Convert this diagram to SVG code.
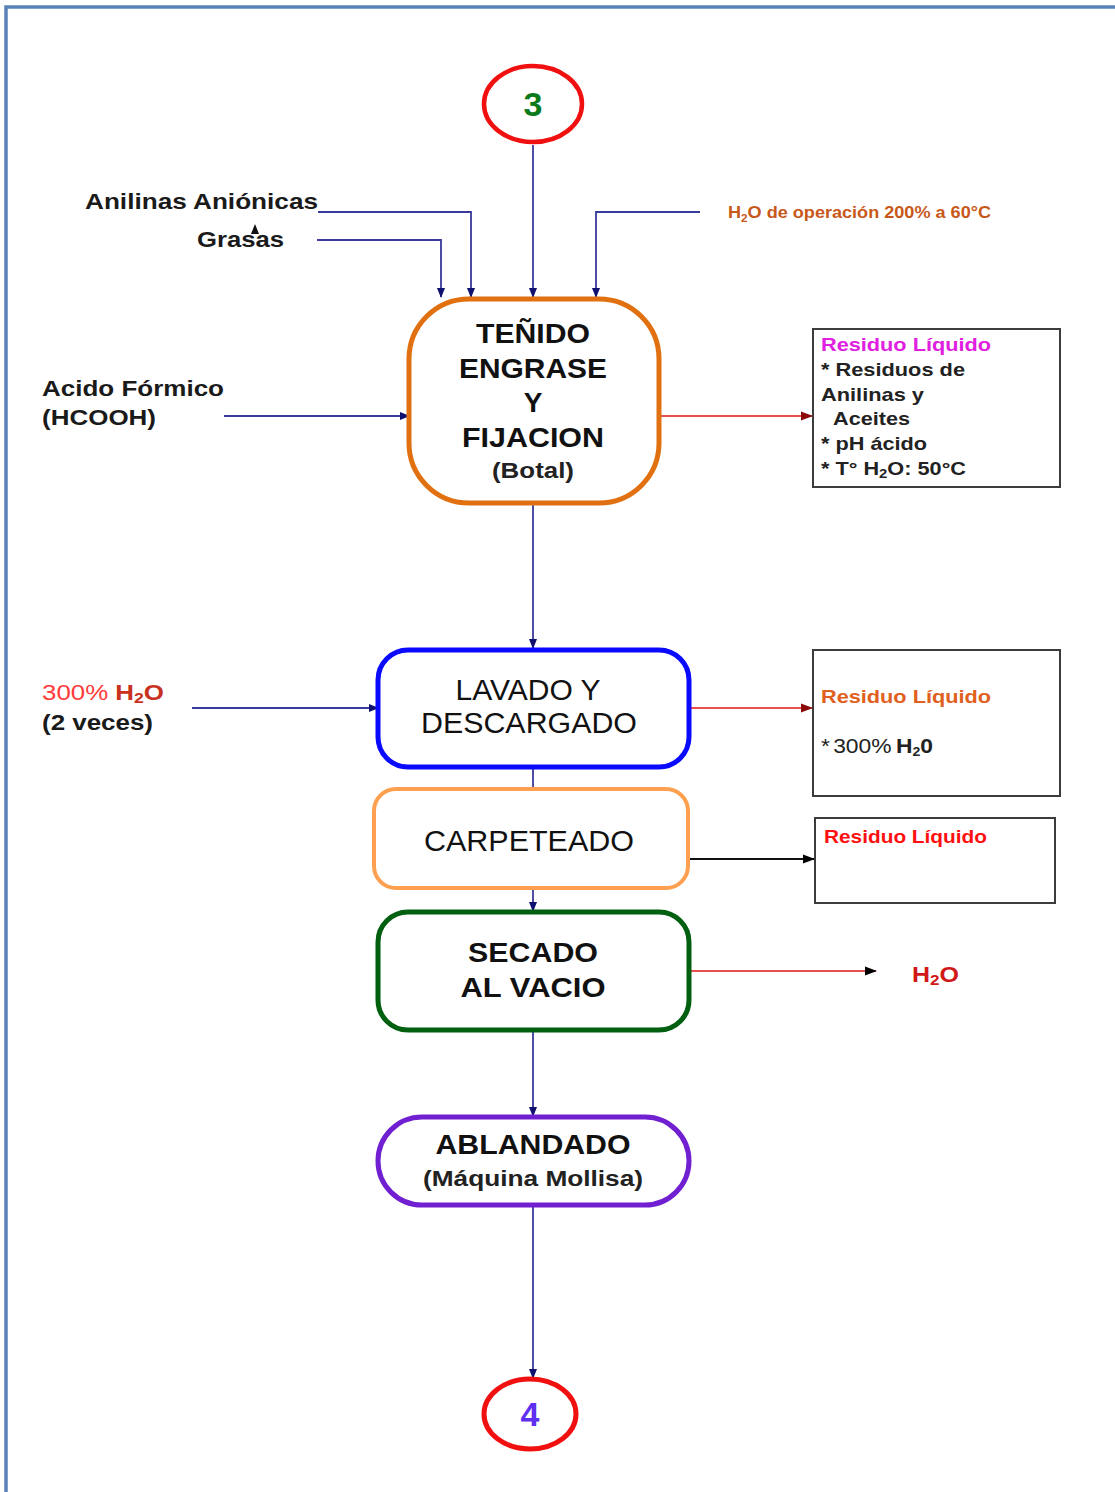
<svg xmlns="http://www.w3.org/2000/svg" width="1115" height="1492" viewBox="0 0 1115 1492">
  <style>
    text { font-family: "Liberation Sans", Arial, sans-serif; }
    .lbl { font-size: 22px; fill: #1a1a1a; font-weight: bold; }
    .node-t { font-size: 28px; font-weight: bold; fill: #111; text-anchor: middle; }
    .node-r { font-size: 29px; fill: #111; text-anchor: middle; }
    .sub { font-size: 22px; font-weight: bold; fill: #222; text-anchor: middle; }
    .flow { fill: none; stroke: #3a3a9a; stroke-width: 1.8; }
    .waste { fill: none; stroke: #e85050; stroke-width: 1.8; }
    .blk { fill: none; stroke: #111; stroke-width: 1.8; }
    .box { fill: #fff; stroke: #3c3c3c; stroke-width: 2; }
    .res { font-size: 19px; font-weight: bold; fill: #222; }
  </style>
  <defs>
    <marker id="ah" markerWidth="10" markerHeight="10" refX="9" refY="5" orient="auto" markerUnits="userSpaceOnUse">
      <path d="M0,1 L10,5 L0,9 Z" fill="#101070"/>
    </marker>
    <marker id="ahr" markerWidth="12" markerHeight="10" refX="11" refY="5" orient="auto" markerUnits="userSpaceOnUse">
      <path d="M0,0.5 L12,5 L0,9.5 Z" fill="#8a0a0a"/>
    </marker>
    <marker id="ahk" markerWidth="12" markerHeight="10" refX="11" refY="5" orient="auto" markerUnits="userSpaceOnUse">
      <path d="M0,0.5 L12,5 L0,9.5 Z" fill="#000"/>
    </marker>
  </defs>

  <!-- page frame -->
  <rect x="0" y="0" width="1115" height="1492" fill="#fff"/>
  <path d="M6,1492 L6,7 L1115,7" fill="none" stroke="#5b82b8" stroke-width="3.5"/>

  <!-- connectors -->
  <g id="connectors">
    <line class="flow" x1="533" y1="145" x2="533" y2="297" marker-end="url(#ah)"/>
    <path class="flow" d="M318,212 H471 V297" marker-end="url(#ah)"/>
    <path class="flow" d="M317,240 H441 V297" marker-end="url(#ah)"/>
    <path class="flow" d="M700,212 H596 V297" marker-end="url(#ah)"/>
    <line class="flow" x1="224" y1="416" x2="409" y2="416" marker-end="url(#ah)"/>
    <line class="waste" x1="660" y1="416" x2="812" y2="416" marker-end="url(#ahr)"/>
    <line class="flow" x1="533" y1="504" x2="533" y2="648" marker-end="url(#ah)"/>
    <line class="flow" x1="192" y1="708" x2="378" y2="708" marker-end="url(#ah)"/>
    <line class="waste" x1="690" y1="708" x2="812" y2="708" marker-end="url(#ahr)"/>
    <line class="flow" x1="533" y1="768" x2="533" y2="789"/>
    <line class="blk" x1="689" y1="859" x2="814" y2="859" marker-end="url(#ahk)"/>
    <line class="flow" x1="533" y1="889" x2="533" y2="911" marker-end="url(#ah)"/>
    <line class="waste" x1="690" y1="971" x2="876" y2="971" marker-end="url(#ahk)"/>
    <line class="flow" x1="533" y1="1031" x2="533" y2="1116" marker-end="url(#ah)"/>
    <line class="flow" x1="533" y1="1206" x2="533" y2="1378" marker-end="url(#ah)"/>
    <path d="M251,234 L255,224 L259,234 Z" fill="#111"/>
  </g>

  <!-- input labels -->
  <g id="in-anilinas"><text class="lbl" x="85" y="209" textLength="233" lengthAdjust="spacingAndGlyphs">Anilinas Aniónicas</text></g>
  <g id="in-grasas"><text class="lbl" x="197" y="247" textLength="87" lengthAdjust="spacingAndGlyphs">Grasas</text></g>
  <g id="in-agua">
    <text x="728" y="218" font-size="17" font-weight="bold" fill="#c8581a" textLength="263" lengthAdjust="spacingAndGlyphs">H<tspan font-size="11" dy="4">2</tspan><tspan dy="-4">O de operación 200% a 60°C</tspan></text>
  </g>
  <g id="in-acido">
    <text class="lbl" x="42" y="396" textLength="182" lengthAdjust="spacingAndGlyphs">Acido Fórmico</text>
    <text class="lbl" x="42" y="425" textLength="114" lengthAdjust="spacingAndGlyphs">(HCOOH)</text>
  </g>
  <g id="in-agua-lavado">
    <text x="42" y="700" font-size="22" textLength="122" lengthAdjust="spacingAndGlyphs"><tspan fill="#ff3a3a">300% </tspan><tspan fill="#c83020" font-weight="bold">H<tspan font-size="15" dy="3">2</tspan><tspan dy="-3">O</tspan></tspan></text>
    <text class="lbl" x="42" y="730" textLength="111" lengthAdjust="spacingAndGlyphs">(2 veces)</text>
  </g>

  <!-- connector circle 3 -->
  <g id="conn-3">
    <ellipse cx="533" cy="104" rx="49" ry="38" fill="#fff" stroke="#f01010" stroke-width="4.5"/>
    <text x="533" y="116" font-size="34" font-weight="bold" fill="#0a7a1a" text-anchor="middle">3</text>
  </g>

  <!-- process: dyeing -->
  <g id="tenido">
    <rect x="409" y="299" width="250" height="204" rx="60" fill="#fff" stroke="#e07010" stroke-width="5"/>
    <text class="node-t" x="533" y="343" textLength="114" lengthAdjust="spacingAndGlyphs">TEÑIDO</text>
    <text class="node-t" x="533" y="378" textLength="148" lengthAdjust="spacingAndGlyphs">ENGRASE</text>
    <text class="node-t" x="533" y="412">Y</text>
    <text class="node-t" x="533" y="447" textLength="142" lengthAdjust="spacingAndGlyphs">FIJACION</text>
    <text class="sub" x="533" y="478" textLength="82" lengthAdjust="spacingAndGlyphs">(Botal)</text>
  </g>

  <!-- residue 1 -->
  <g id="residuo-1">
    <rect class="box" x="813" y="329" width="247" height="158"/>
    <text x="821" y="351" font-size="19" font-weight="bold" fill="#e020e0" textLength="170" lengthAdjust="spacingAndGlyphs">Residuo Líquido</text>
    <text class="res" x="821" y="376" textLength="144" lengthAdjust="spacingAndGlyphs">* Residuos de</text>
    <text class="res" x="821" y="401" textLength="103" lengthAdjust="spacingAndGlyphs">Anilinas y</text>
    <text class="res" x="833" y="425" textLength="77" lengthAdjust="spacingAndGlyphs">Aceites</text>
    <text class="res" x="821" y="450" textLength="106" lengthAdjust="spacingAndGlyphs">* pH ácido</text>
    <text class="res" x="821" y="475" textLength="145" lengthAdjust="spacingAndGlyphs">* T° H<tspan font-size="13" dy="3">2</tspan><tspan dy="-3">O: 50°C</tspan></text>
  </g>

  <!-- process: washing -->
  <g id="lavado">
    <rect x="378" y="650" width="311" height="117" rx="30" fill="#fff" stroke="#0a0aff" stroke-width="5"/>
    <text class="node-r" x="528" y="700" textLength="145" lengthAdjust="spacingAndGlyphs">LAVADO Y</text>
    <text class="node-r" x="529" y="733" textLength="216" lengthAdjust="spacingAndGlyphs">DESCARGADO</text>
  </g>

  <!-- residue 2 -->
  <g id="residuo-2">
    <rect class="box" x="813" y="650" width="247" height="146"/>
    <text x="821" y="703" font-size="19" font-weight="bold" fill="#e06020" textLength="170" lengthAdjust="spacingAndGlyphs">Residuo Líquido</text>
    <text x="821" y="753" font-size="21" fill="#222" textLength="112" lengthAdjust="spacingAndGlyphs">*<tspan dx="3">300%</tspan><tspan dx="4" font-weight="bold">H<tspan font-size="13" dy="3">2</tspan><tspan dy="-3">0</tspan></tspan></text>
  </g>

  <!-- process: carpeteado -->
  <g id="carpeteado">
    <rect x="374" y="789" width="314" height="99" rx="22" fill="#fff" stroke="#ffa050" stroke-width="4"/>
    <text class="node-r" x="529" y="851" textLength="210" lengthAdjust="spacingAndGlyphs">CARPETEADO</text>
  </g>

  <!-- residue 3 -->
  <g id="residuo-3">
    <rect class="box" x="815" y="818" width="240" height="85"/>
    <text x="824" y="843" font-size="18.5" font-weight="bold" fill="#ff1010" textLength="163" lengthAdjust="spacingAndGlyphs">Residuo Líquido</text>
  </g>

  <!-- process: vacuum drying -->
  <g id="secado">
    <rect x="378" y="912" width="311" height="118" rx="30" fill="#fff" stroke="#006010" stroke-width="5"/>
    <text class="node-t" x="533" y="962" textLength="130" lengthAdjust="spacingAndGlyphs">SECADO</text>
    <text class="node-t" x="533" y="997" textLength="145" lengthAdjust="spacingAndGlyphs">AL VACIO</text>
  </g>

  <!-- vapor output -->
  <g id="out-agua">
    <text x="912" y="982" font-size="22" font-weight="bold" fill="#d01818" textLength="47" lengthAdjust="spacingAndGlyphs">H<tspan font-size="15" dy="3">2</tspan><tspan dy="-3">O</tspan></text>
  </g>

  <!-- process: softening -->
  <g id="ablandado">
    <rect x="378" y="1117" width="311" height="88" rx="44" fill="#fff" stroke="#7020d0" stroke-width="5"/>
    <text class="node-t" x="533" y="1154" textLength="195" lengthAdjust="spacingAndGlyphs">ABLANDADO</text>
    <text class="sub" x="533" y="1186" textLength="220" lengthAdjust="spacingAndGlyphs">(Máquina Mollisa)</text>
  </g>

  <!-- connector circle 4 -->
  <g id="conn-4">
    <ellipse cx="530" cy="1414" rx="46" ry="35" fill="#fff" stroke="#f01010" stroke-width="5"/>
    <text x="530" y="1426" font-size="34" font-weight="bold" fill="#6030f0" text-anchor="middle">4</text>
  </g>
</svg>
